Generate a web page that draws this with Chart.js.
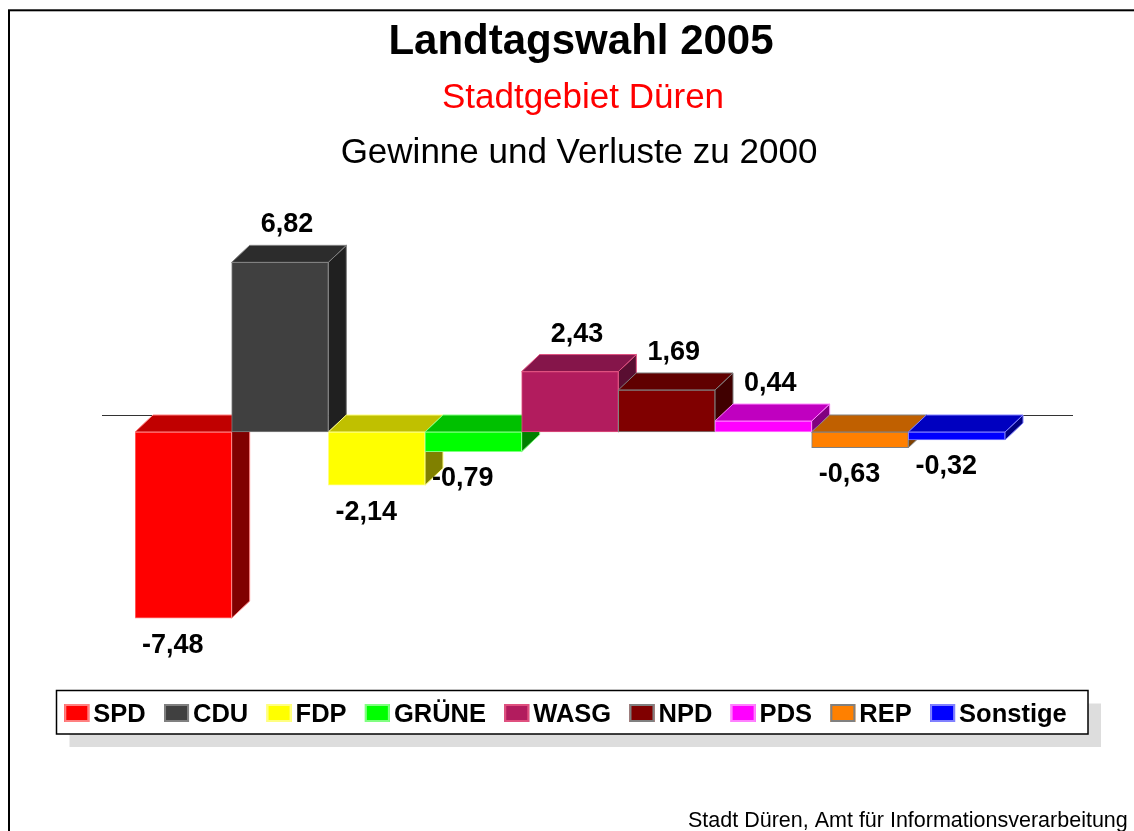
<!DOCTYPE html>
<html>
<head>
<meta charset="utf-8">
<title>Landtagswahl 2005</title>
<script src="https://cdn.jsdelivr.net/npm/chart.js@4/dist/chart.umd.min.js"></script>
<style>
  html, body { margin: 0; padding: 0; background: #fff; }
  canvas { display: block; }
</style>
</head>
<body>
<canvas id="chart" width="1134" height="831"></canvas>
<script>
// Gewinne und Verluste (Prozentpunkte) zu 2000
const parties = ['SPD', 'CDU', 'FDP', 'GRÜNE', 'WASG', 'NPD', 'PDS', 'REP', 'Sonstige'];
const changes = [-7.48, 6.82, -2.14, -0.79, 2.43, 1.69, 0.44, -0.63, -0.32];

const frontColors = ['#ff0000', '#404040', '#ffff00', '#00ff00', '#b21c5e', '#800000', '#ff00ff', '#ff8000', '#0000ff'];
const topColors = ['#c00000', '#2c2c2c', '#c0c000', '#00c000', '#85154a', '#600000', '#c000c0', '#c06000', '#0000c0'];
const sideColors = ['#800000', '#202020', '#808000', '#008000', '#590e31', '#400000', '#800080', '#804000', '#000080'];
const edgeColors = ['#ff8080', '#808080', '#ffff80', '#80ff80', '#e0507f', '#808080', '#ff80ff', '#808080', '#8080ff'];

const FONT = '"Liberation Sans", Arial, sans-serif';
const DX = 18;
const DY = 17;

const fmt = v => v.toFixed(2).replace('.', ',');

// top and side faces, drawn before the library paints the front faces
const depthPlugin = {
  id: 'depth',
  beforeDraw(chart) {
    const { ctx } = chart;
    ctx.save();
    ctx.fillStyle = '#fff';
    ctx.fillRect(0, 0, chart.width, chart.height);
    ctx.restore();
  },
  beforeDatasetsDraw(chart) {
    const { ctx, chartArea } = chart;
    const zero = chart.scales.y.getPixelForValue(0);
    const bars = chart.getDatasetMeta(0).data;

    // back zero line
    ctx.save();
    ctx.strokeStyle = '#333';
    ctx.lineWidth = 1;
    ctx.beginPath();
    ctx.moveTo(chartArea.left + DX - 51, zero - DY + 0.5);
    ctx.lineTo(chartArea.right + DX + 50, zero - DY + 0.5);
    ctx.stroke();

    bars.forEach((bar, i) => {
      const left = bar.x - bar.width / 2;
      const right = bar.x + bar.width / 2;
      const top = Math.min(bar.y, bar.base);
      const bottom = Math.max(bar.y, bar.base);
      ctx.strokeStyle = edgeColors[i];
      ctx.lineWidth = 1;

      // side
      ctx.fillStyle = sideColors[i];
      ctx.beginPath();
      ctx.moveTo(right, top);
      ctx.lineTo(right + DX, top - DY);
      ctx.lineTo(right + DX, bottom - DY);
      ctx.lineTo(right, bottom);
      ctx.closePath();
      ctx.fill();
      ctx.stroke();

      // top
      ctx.fillStyle = topColors[i];
      ctx.beginPath();
      ctx.moveTo(left, top);
      ctx.lineTo(left + DX, top - DY);
      ctx.lineTo(right + DX, top - DY);
      ctx.lineTo(right, top);
      ctx.closePath();
      ctx.fill();
      ctx.stroke();
    });
    ctx.restore();
  },
  afterDatasetsDraw(chart) {
    const { ctx } = chart;
    const bars = chart.getDatasetMeta(0).data;
    ctx.save();
    ctx.fillStyle = '#000';
    ctx.font = 'bold 27px ' + FONT;
    ctx.textAlign = 'center';
    ctx.textBaseline = 'alphabetic';
    bars.forEach((bar, i) => {
      const v = changes[i];
      if (v >= 0) {
        ctx.fillText(fmt(v), bar.x + 7, bar.y - DY - 22.5 + 9.5);
      } else {
        ctx.fillText(fmt(v), bar.x - 10.5, bar.y + 25 + 9.5);
      }
    });
    ctx.restore();
  }
};

// titles, legend box, footer and frame
const textPlugin = {
  id: 'texts',
  afterDraw(chart) {
    const { ctx } = chart;
    ctx.save();

    ctx.strokeStyle = '#000';
    ctx.lineWidth = 2;
    ctx.strokeRect(9, 10.3, 1400, 1000);

    ctx.textAlign = 'center';
    ctx.textBaseline = 'alphabetic';
    ctx.fillStyle = '#000';
    ctx.font = 'bold 42px ' + FONT;
    ctx.fillText('Landtagswahl 2005', 581, 54);
    ctx.fillStyle = '#ff0000';
    ctx.font = '35px ' + FONT;
    ctx.fillText('Stadtgebiet Düren', 583, 108);
    ctx.fillStyle = '#000';
    ctx.fillText('Gewinne und Verluste zu 2000', 579, 163);

    // legend
    const boxL = 56.5, boxT = 690.5, boxR = 1088, boxB = 734;
    ctx.fillStyle = '#dddddd';
    ctx.fillRect(boxL + 13, boxT + 13, boxR - boxL, boxB - boxT);
    ctx.fillStyle = '#fff';
    ctx.fillRect(boxL, boxT, boxR - boxL, boxB - boxT);
    ctx.strokeStyle = '#000';
    ctx.lineWidth = 1.5;
    ctx.strokeRect(boxL, boxT, boxR - boxL, boxB - boxT);

    ctx.font = 'bold 25.5px ' + FONT;
    ctx.textAlign = 'left';
    let x = 64.3;
    parties.forEach((name, i) => {
      ctx.fillStyle = frontColors[i];
      ctx.fillRect(x, 704, 25, 18);
      ctx.strokeStyle = edgeColors[i];
      ctx.lineWidth = 2;
      ctx.strokeRect(x + 1, 705, 23, 16);
      ctx.fillStyle = '#000';
      ctx.fillText(name, x + 29, 722);
      x += 29 + ctx.measureText(name).width + 18.3;
    });

    ctx.font = '21.5px ' + FONT;
    ctx.fillText('Stadt Düren, Amt für Informationsverarbeitung', 688, 827);
    ctx.restore();
  }
};

new Chart(document.getElementById('chart'), {
  type: 'bar',
  data: {
    labels: parties,
    datasets: [{
      data: changes,
      backgroundColor: frontColors,
      borderColor: edgeColors,
      borderWidth: 1,
      borderSkipped: false,
      barPercentage: 1,
      categoryPercentage: 1
    }]
  },
  options: {
    responsive: false,
    animation: false,
    devicePixelRatio: 1,
    layout: { padding: { left: 135, right: 129, top: 233, bottom: 200 } },
    scales: {
      x: { display: false },
      y: { display: false, min: -8, max: 8 }
    },
    plugins: {
      legend: { display: false },
      title: { display: false },
      tooltip: { enabled: false }
    }
  },
  plugins: [depthPlugin, textPlugin]
});
</script>
</body>
</html>
